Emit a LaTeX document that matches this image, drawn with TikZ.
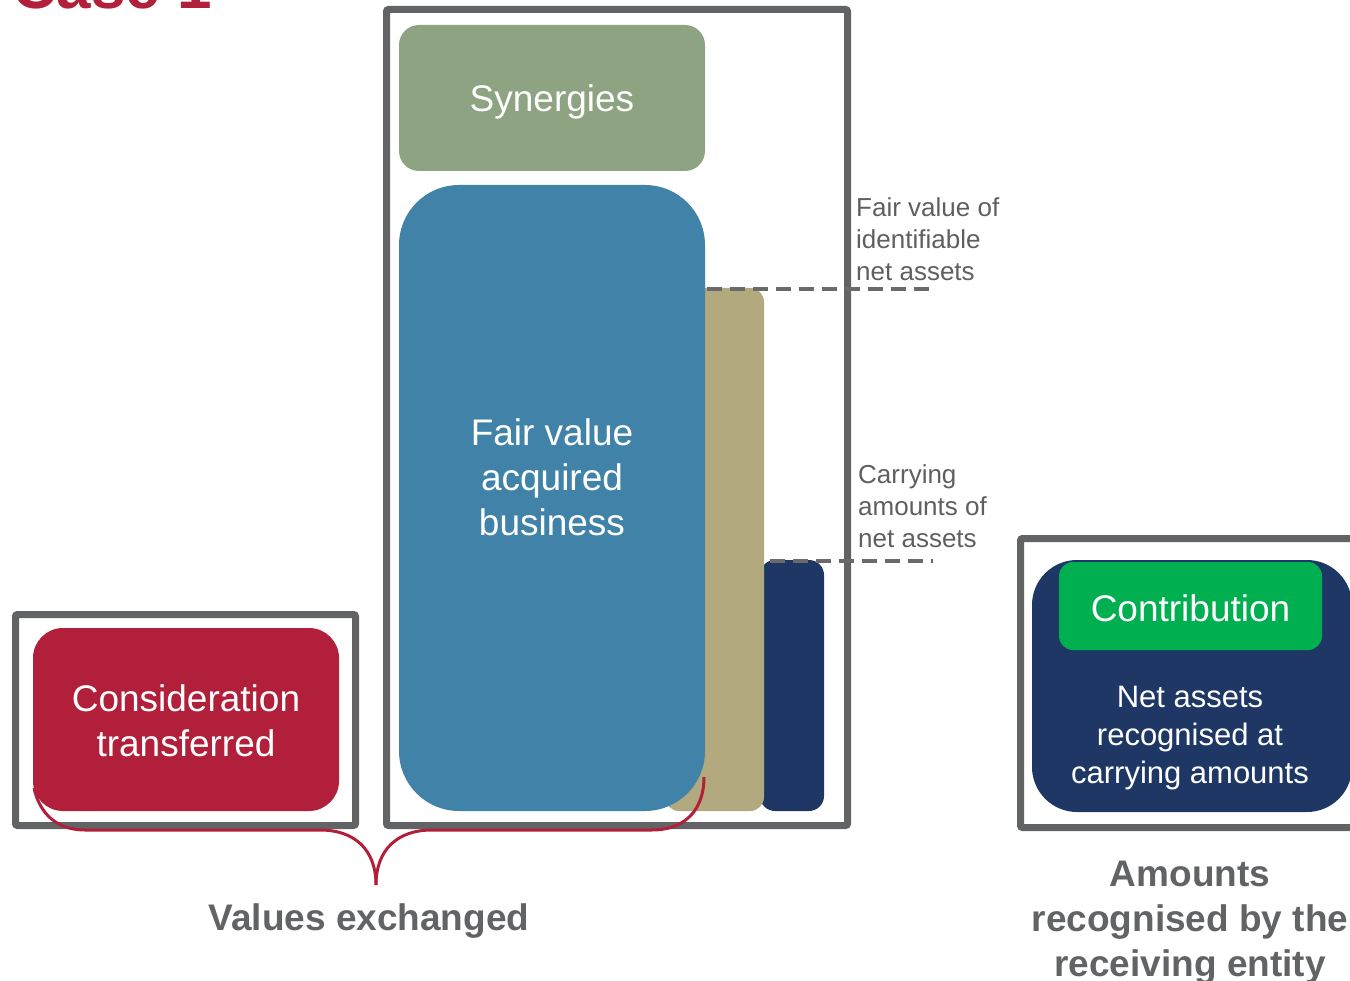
\documentclass[tikz,border=0pt]{standalone}
\usepackage{fontspec}
\setmainfont{Liberation Sans}
\definecolor{frame}{HTML}{626365}
\definecolor{txtgray}{HTML}{5F5F5F}
\definecolor{casered}{HTML}{B11F3A}
\definecolor{syn}{HTML}{8EA382}
\definecolor{fvblue}{HTML}{4183A8}
\definecolor{khaki}{HTML}{B2AA7E}
\definecolor{navy}{HTML}{1F3765}
\definecolor{contrib}{HTML}{00AF50}
\definecolor{dash}{HTML}{6A6A6A}
\begin{document}
\begin{tikzpicture}[x=1pt,y=-1pt,
  framebox/.style={draw=frame,line width=7pt,rounded corners=2pt},
  bigtxt/.style={font=\fontsize{37}{45}\selectfont},
  sidetxt/.style={font=\fontsize{26}{32}\selectfont,text=txtgray,align=left,anchor=north west,inner sep=0pt},
  boldlab/.style={font=\fontsize{37}{45}\selectfont\bfseries,text=frame,align=center},
  dashline/.style={draw=dash,line width=4pt,dash pattern=on 15pt off 8pt},
  bracestyle/.style={draw=casered,line width=3pt}]
\useasboundingbox (0,0) rectangle (1350,981);
% title (cut off)
\node[anchor=base west,inner sep=0pt,text=casered,font=\fontsize{62}{70}\selectfont\bfseries] (title) at (12,9) {Case 1};
% frames
\draw[framebox] (15.5,614.5) rectangle (355.5,825.5);
\draw[framebox] (386.5,9.5) rectangle (847.5,825.5);
\draw[framebox] (1020.5,538.5) rectangle (1370,827.5);
% middle stacked bars (back to front)
\node[fill=navy,rounded corners=15pt,minimum width=64pt,minimum height=251pt,inner sep=0pt] (carry) at (792,685.5) {};
\node[fill=khaki,rounded corners=14pt,minimum width=99pt,minimum height=523pt,inner sep=0pt] (fvna) at (714.5,549.5) {};
\node[fill=syn,rounded corners=20pt,minimum width=306pt,minimum height=146pt,inner sep=0pt] (syn) at (552,98) {};
\node[text=white,bigtxt] (syntxt) at (552,102) {Synergies};
\node[fill=fvblue,rounded corners=60pt,minimum width=306pt,minimum height=626pt,inner sep=0pt] (fvab) at (552,498) {};
\node[text=white,bigtxt,align=center] (fvabtxt) at (552,477) {Fair value\\acquired\\business};
% consideration
\node[fill=casered,rounded corners=30pt,minimum width=306pt,minimum height=183pt,inner sep=0pt] (cons) at (186,719.5) {};
\node[text=white,bigtxt,align=center] (constxt) at (186,721) {Consideration\\transferred};
% dashed level lines
\coordinate (d1s) at (707,289);
\coordinate (d1e) at (933,289);
\coordinate (d2s) at (770,561);
\coordinate (d2e) at (933,561);
\draw[dashline] (d1s) -- (d1e);
\draw[dashline] (d2s) -- (d2e);
% side labels
\node[sidetxt] (lab1) at (856,197) {Fair value of\\identifiable\\net assets};
\node[sidetxt] (lab2) at (858,464) {Carrying\\amounts of\\net assets};
% right side
\node[fill=navy,rounded corners=45pt,minimum width=320pt,minimum height=252pt,inner sep=0pt] (netbox) at (1192,686) {};
\node[fill=contrib,rounded corners=14pt,minimum width=263pt,minimum height=88pt,inner sep=0pt] (contrib) at (1190.5,606) {};
\node[text=white,font=\fontsize{37}{45}\selectfont] (contribtxt) at (1190.5,608) {Contribution};
\node[text=white,font=\fontsize{31}{38}\selectfont,align=center] (nettxt) at (1190,738) {Net assets\\recognised at\\carrying amounts};
% bottom labels
\node[boldlab] (vex) at (369,921) {Values exchanged};
\node[boldlab] (amt) at (1190,923) {Amounts\\recognised by the\\receiving entity};
% brace
\coordinate (bl) at (34,788);
\coordinate (btip) at (376,885);
\coordinate (br) at (704,777);
\draw[bracestyle] (bl) .. controls (40,815) and (58,830) .. (85,830) -- (320,830) .. controls (355,830) and (376,850) .. (btip);
\draw[bracestyle] (btip) .. controls (376,850) and (397,830) .. (432,830) -- (652,830) .. controls (685,830) and (704,810) .. (br);
\end{tikzpicture}
\end{document}
